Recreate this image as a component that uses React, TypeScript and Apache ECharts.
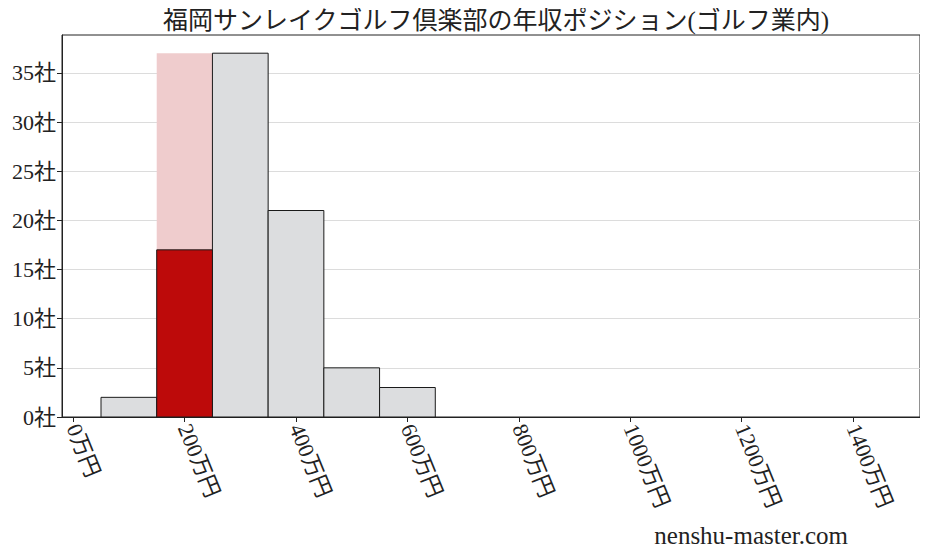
import * as echarts from "echarts";
import React, { useEffect, useRef } from "react";

// 年収ビン（万円）の左端・右端と社数
const binStart = [50, 150, 250, 350, 450, 550];
const binEnd = [150, 250, 350, 450, 550, 650];
const companyCounts = [2, 0, 37, 21, 5, 3];

// 自社のビン（赤）と、そのビンの全体（薄い赤）
const ownBin = [150, 250];
const ownValue = 17;
const ownBinTotal = 37;

const xTicks = [0, 200, 400, 600, 800, 1000, 1200, 1400];
const yTicks = [0, 5, 10, 15, 20, 25, 30, 35];

const titleText = "福岡サンレイクゴルフ倶楽部の年収ポジション(ゴルフ業内)";
const FONT = '"Liberation Serif", "DejaVu Serif", "Noto Sans CJK JP", serif';

const rectSeries = (
  name: string,
  data: number[][],
  fill: string,
  stroke: string | null,
  z: number
) => ({
  name,
  type: "custom",
  z,
  data,
  renderItem: (params: any, api: any) => {
    const p0 = api.coord([api.value(0), api.value(2)]);
    const p1 = api.coord([api.value(1), 0]);
    return {
      type: "rect",
      shape: { x: p0[0], y: p0[1], width: p1[0] - p0[0], height: p1[1] - p0[1] },
      style: {
        fill,
        stroke: stroke ?? "none",
        lineWidth: stroke ? 1 : 0,
      },
    };
  },
});

const App: React.FC = () => {
  const chartRef = useRef<HTMLDivElement | null>(null);

  useEffect(() => {
    const chart = echarts.init(chartRef.current, null, { renderer: "svg" });
    const grayData = binStart
      .map((s, i) => [s, binEnd[i], companyCounts[i]])
      .filter((d) => d[2] > 0);

    chart.setOption({
      animation: false,
      textStyle: { fontFamily: FONT },
      title: {
        text: titleText,
        left: 491,
        top: 3,
        textAlign: "center",
        textStyle: { fontFamily: FONT, fontSize: 25, fontWeight: "normal", color: "#222" },
      },
      graphic: [
        {
          type: "text",
          right: 80,
          top: 523,
          style: {
            text: "nenshu-master.com",
            font: `25px ${FONT}`,
            fill: "#222",
          },
        },
      ],
      grid: {
        left: 62,
        right: 8,
        top: 35,
        bottom: 140,
        show: true,
        borderColor: "#222",
        borderWidth: 1,
        backgroundColor: "transparent",
      },
      xAxis: {
        type: "value",
        min: -20,
        max: 1520,
        splitLine: { show: false },
        axisLine: { show: true, onZero: false, lineStyle: { color: "#222" } },
        axisTick: {
          show: true,
          length: 5,
          lineStyle: { color: "#222" },
          customValues: xTicks,
        },
        axisLabel: {
          customValues: xTicks,
          rotate: -68,
          margin: 8,
          fontSize: 22,
          fontFamily: FONT,
          color: "#222",
          formatter: (v: number) => `${v}万円`,
        },
      },
      yAxis: {
        type: "value",
        min: 0,
        max: 38.85,
        splitLine: { show: true, lineStyle: { color: "#dcdcdc", width: 1 } },
        axisLine: { show: true, onZero: false, lineStyle: { color: "#222" } },
        axisTick: {
          show: true,
          length: 5,
          lineStyle: { color: "#222" },
          customValues: yTicks,
        },
        axisLabel: {
          customValues: yTicks,
          margin: 6,
          fontSize: 22,
          fontFamily: FONT,
          color: "#222",
          formatter: (v: number) => `${v}社`,
        },
      },
      series: [
        rectSeries("own-total", [[ownBin[0], ownBin[1], ownBinTotal]], "#efcccd", null, 2),
        rectSeries("others", grayData, "#dcdddf", "#1a1a1a", 3),
        rectSeries("own", [[ownBin[0], ownBin[1], ownValue]], "#bd0a0a", "#1a1a1a", 4),
      ],
    });

    return () => {
      chart.dispose();
    };
  }, []);

  return <div ref={chartRef} style={{ width: 928, height: 557, margin: -8 }}></div>;
};

export default App;
